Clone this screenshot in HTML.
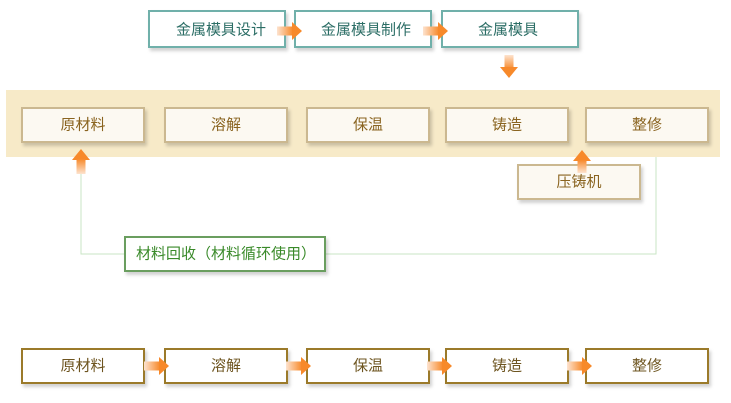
<!DOCTYPE html>
<html><head><meta charset="utf-8"><style>
html,body{margin:0;padding:0;background:#fff;}
svg{display:block;}
text{font-family:"Liberation Sans","Noto Sans CJK SC",sans-serif;font-size:15px;text-anchor:middle;dominant-baseline:central;}
</style></head><body>
<svg width="731" height="403" viewBox="0 0 731 403" xmlns="http://www.w3.org/2000/svg">
<defs>
<linearGradient id="gr" x1="0" x2="1" y1="0" y2="0"><stop offset="0" stop-color="#fde3cf"/><stop offset="1" stop-color="#f7892a"/></linearGradient>
<linearGradient id="gd" x1="0" x2="0" y1="0" y2="1"><stop offset="0" stop-color="#fde3cf"/><stop offset="1" stop-color="#f7892a"/></linearGradient>
<linearGradient id="gu" x1="0" x2="0" y1="1" y2="0"><stop offset="0" stop-color="#fde3cf"/><stop offset="1" stop-color="#f7892a"/></linearGradient>
<filter id="sh" x="-10%" y="-20%" width="130%" height="160%"><feDropShadow dx="2" dy="3" stdDeviation="1.5" flood-color="#000" flood-opacity="0.18"/></filter>
<g id="ar"><rect x="0" y="-4.5" width="16" height="9" fill="url(#gr)"/><path d="M15 -9 L25 0 L15 9 Z" fill="#f7892a"/></g>
</defs>

<g stroke="#6fb0aa" stroke-width="2" fill="#fff" filter="url(#sh)">
<rect x="149" y="11" width="136" height="36"/>
<rect x="295" y="11" width="136" height="36"/>
<rect x="442" y="11" width="136" height="36"/>
</g>
<text x="221" y="30" fill="#2c6e66">金属模具设计</text>
<text x="366" y="30" fill="#2c6e66">金属模具制作</text>
<text x="508" y="30" fill="#2c6e66">金属模具</text>
<use href="#ar" x="277" y="31"/>
<use href="#ar" x="423" y="31"/>
<rect x="504.5" y="55" width="9" height="14" fill="url(#gd)"/>
<path d="M500 67 L518 67 L509 78 Z" fill="#f7892a"/>

<rect x="6" y="90" width="714" height="67" fill="#f7eac8"/>

<path d="M81 170 V254 H656 V157" fill="none" stroke="#c9e6c4" stroke-width="1"/>

<g stroke="#cbb890" stroke-width="2" fill="#fcf9f2" filter="url(#sh)">
<rect x="22" y="108" width="122" height="34"/>
<rect x="165" y="108" width="122" height="34"/>
<rect x="307" y="108" width="122" height="34"/>
<rect x="446" y="108" width="122" height="34"/>
<rect x="586" y="108" width="122" height="34"/>
<rect x="518" y="165" width="122" height="34"/>
</g>
<text x="83" y="125" fill="#8a6420">原材料</text>
<text x="226" y="125" fill="#8a6420">溶解</text>
<text x="368" y="125" fill="#8a6420">保温</text>
<text x="507" y="125" fill="#8a6420">铸造</text>
<text x="647" y="125" fill="#8a6420">整修</text>
<text x="579" y="182" fill="#8a6420">压铸机</text>
<path d="M72 160 L90 160 L81 149 Z" fill="#f7892a"/>
<rect x="76.5" y="159" width="9" height="15" fill="url(#gu)"/>
<path d="M573 161 L591 161 L582 150 Z" fill="#f7892a"/>
<rect x="577.5" y="160" width="9" height="13" fill="url(#gu)"/>

<rect x="125" y="237" width="200" height="34" fill="#fff" stroke="#6a9e5f" stroke-width="2" filter="url(#sh)"/>
<text x="226" y="254" fill="#3a8a2a">材料回收（材料循环使用）</text>

<g stroke="#9b7a2a" stroke-width="2" fill="#fff" filter="url(#sh)">
<rect x="22" y="349" width="122" height="34"/>
<rect x="165" y="349" width="122" height="34"/>
<rect x="307" y="349" width="122" height="34"/>
<rect x="446" y="349" width="122" height="34"/>
<rect x="586" y="349" width="122" height="34"/>
</g>
<text x="83" y="366" fill="#6e5520">原材料</text>
<text x="226" y="366" fill="#6e5520">溶解</text>
<text x="368" y="366" fill="#6e5520">保温</text>
<text x="507" y="366" fill="#6e5520">铸造</text>
<text x="647" y="366" fill="#6e5520">整修</text>
<use href="#ar" x="144" y="366"/>
<use href="#ar" x="286" y="366"/>
<use href="#ar" x="427" y="366"/>
<use href="#ar" x="567" y="366"/>
</svg>
</body></html>
